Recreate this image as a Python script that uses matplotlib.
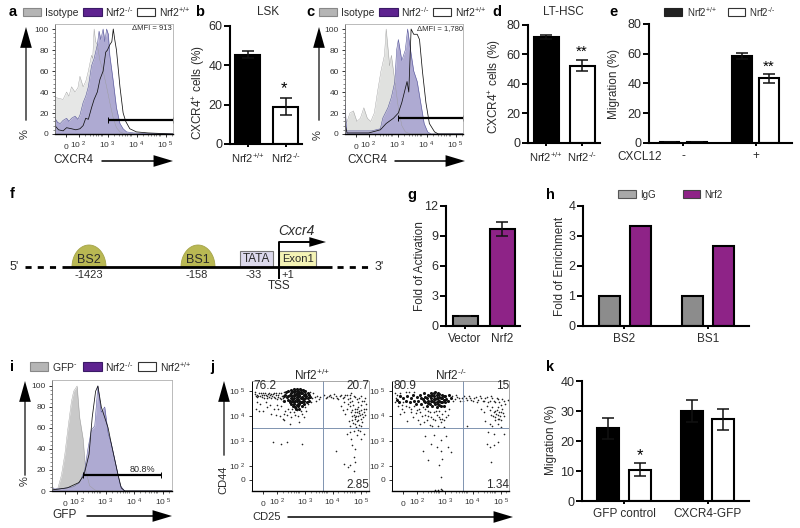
import numpy as np
import matplotlib
matplotlib.use("Agg")
import matplotlib.pyplot as plt
from matplotlib.patches import Rectangle, Polygon

plt.rcParams['font.family'] = ['Liberation Sans', 'DejaVu Sans']
plt.rcParams['mathtext.fontset'] = 'custom'
plt.rcParams['mathtext.rm'] = 'Liberation Sans'
plt.rcParams['mathtext.it'] = 'Liberation Sans:italic'
plt.rcParams['mathtext.default'] = 'regular'

WT = 'Nrf2$^{{+}/{+}}$'
KO = 'Nrf2$^{\u2010/\u2010}$'
TXT = '#2b2b2b'
GRAY = '#8c8c8c'
PURPLE = '#8e2387'

# histogram values: (log10 intensity, % of max)
a_iso = [(1.28,35),(1.40,34),(1.56,33),(1.68,40),(1.76,36),(1.85,45),(1.97,40),(2.07,44),(2.14,55),(2.25,45),(2.34,50),(2.43,60),(2.54,75),(2.58,72),(2.63,100),(2.68,88),(2.74,85),(2.83,70),(2.94,60),(3.06,45),(3.17,30),(3.29,15),(3.40,6),(3.52,2),(3.70,0),(5.35,0)]
a_ko = [(1.28,15),(1.37,11),(1.46,10),(1.56,13),(1.68,15),(1.76,12),(1.85,15),(1.97,17),(2.07,14),(2.14,18),(2.25,30),(2.34,36),(2.43,45),(2.54,65),(2.63,72),(2.74,85),(2.80,98),(2.86,90),(2.94,100),(3.0,88),(3.06,100),(3.12,95),(3.17,75),(3.29,50),(3.40,25),(3.52,10),(3.63,5),(3.75,2),(4.0,1),(4.5,0.5),(5.35,0)]
a_wt = [(1.28,8),(1.40,4),(1.56,3),(1.68,6),(1.85,5),(2.0,4),(2.14,5),(2.25,8),(2.34,15),(2.43,14),(2.54,25),(2.63,33),(2.74,40),(2.83,52),(2.94,60),(3.03,78),(3.09,80),(3.17,85),(3.24,88),(3.29,100),(3.34,90),(3.40,80),(3.52,45),(3.63,20),(3.72,12),(3.86,5),(4.09,2),(4.5,1),(5.35,0)]

c_iso = [(1.28,20),(1.33,10),(1.45,20),(1.57,22),(1.69,12),(1.81,15),(1.93,25),(2.05,15),(2.17,12),(2.29,20),(2.40,40),(2.52,60),(2.64,75),(2.70,100),(2.82,65),(2.88,75),(3.0,50),(3.12,25),(3.24,8),(3.36,2),(3.54,0),(5.35,0)]
c_ko = [(1.28,30),(1.33,3),(1.6,3),(2.2,3),(2.5,5),(2.58,15),(2.76,25),(2.88,35),(3.0,50),(3.06,80),(3.12,90),(3.24,70),(3.36,80),(3.44,100),(3.54,80),(3.65,60),(3.77,50),(3.89,30),(4.01,10),(4.13,2),(4.25,0),(5.35,0)]
c_wt = [(1.28,10),(1.35,1),(2.1,1),(2.5,4),(2.7,10),(2.95,15),(3.12,20),(3.24,30),(3.42,50),(3.48,40),(3.56,100),(3.65,95),(3.77,95),(3.85,90),(3.95,60),(4.07,30),(4.19,10),(4.37,2),(4.5,0),(5.35,0)]

i_gfp = [(1.21,5),(1.30,1),(1.42,3),(1.54,15),(1.66,35),(1.77,60),(1.89,85),(1.97,95),(2.09,100),(2.18,70),(2.30,50),(2.39,20),(2.53,5),(2.71,1),(2.88,0),(5.42,0)]
i_ko = [(1.21,2),(1.5,2),(1.96,4),(2.18,8),(2.36,20),(2.47,40),(2.59,58),(2.71,62),(2.82,100),(2.94,75),(3.06,80),(3.18,55),(3.29,45),(3.41,30),(3.53,15),(3.61,5),(3.76,0),(5.42,0)]
i_wt = [(1.21,1),(1.75,3),(2.15,8),(2.33,15),(2.51,35),(2.62,70),(2.74,95),(2.82,100),(2.94,80),(3.06,70),(3.18,60),(3.29,45),(3.41,30),(3.53,15),(3.64,3),(3.76,0),(5.42,0)]

# bar values
b_vals = [45.5, 19]
b_errs = [2, 4.5]
d_vals = [72, 52.5]
d_errs = [1.5, 4]
e_vals = [1, 1, 58.5, 43.5]
e_errs = [0, 0, 2, 3]
g_vals = [1, 9.7]
g_errs = [0, 0.7]
h_vals = [1, 3.33, 1, 2.67]
k_vals = [24.2, 10.5, 30, 27.2]
k_errs = [3.5, 2.3, 3.8, 3.4]

# dot plot j, read by eye: (log10 CD25, log10 CD44)
j_wt_dense = [(2.45,4.75),(2.5,4.65),(2.55,4.85),(2.6,4.7),(2.6,4.9),(2.65,4.6),(2.65,4.8),(2.7,4.5),(2.7,4.72),(2.7,4.95),(2.75,4.62),(2.75,4.82),(2.75,5.0),(2.8,4.45),(2.8,4.6),(2.8,4.76),(2.8,4.92),(2.85,4.5),(2.85,4.68),(2.85,4.84),(2.85,5.02),(2.9,4.48),(2.9,4.62),(2.9,4.78),(2.9,4.95),(2.95,4.55),(2.95,4.72),(2.95,4.9),(3.0,4.58),(3.0,4.75),(3.0,4.92),(3.05,4.62),(3.05,4.82),(3.1,4.7),(3.1,4.88),(3.15,4.78),(3.2,4.72),(2.55,4.55),(2.65,4.98),(2.75,4.38),(2.85,4.4),(2.95,5.05),(3.05,5.0),(2.7,4.55),(2.9,4.85),(2.4,4.85),(2.35,4.78),(3.25,4.85),(3.25,4.62),
 (2.35,4.62),(2.42,4.95),(2.5,4.78),(2.5,5.0),(2.58,4.62),(2.62,5.05),(2.68,4.42),(2.72,5.08),(2.78,4.3),(2.82,5.1),(2.88,4.3),(2.92,5.08),(2.98,4.42),(3.02,5.05),(3.08,4.5),(3.12,4.98),(3.18,4.55),(3.2,4.92),(3.28,4.75),(2.62,4.5),(2.72,4.84),(2.82,4.68),(2.92,4.55),(3.02,4.66),(2.78,4.88),(2.68,4.68)]
j_wt_sparse = [(1.3,4.95),(1.35,4.8),(1.4,4.85),(1.45,4.92),(1.5,4.78),(1.55,4.85),(1.6,4.9),(1.65,4.72),(1.7,4.84),(1.75,4.78),(1.8,4.9),(1.85,4.82),(1.9,4.7),(1.95,4.86),(2.0,4.76),(2.05,4.9),(2.1,4.66),(2.15,4.82),(2.2,4.72),(2.25,4.9),(2.3,4.6),(2.35,4.95),(1.35,4.3),(1.5,4.5),(1.6,4.2),(1.75,4.35),(1.9,4.1),(2.0,4.3),(2.1,4.45),(2.2,4.0),(2.3,3.9),(2.4,4.2),(2.5,4.3),(2.6,3.95),(2.7,4.15),(2.8,4.25),(2.9,3.75),(3.0,4.1),(3.1,4.35),(2.35,3.85),(2.55,3.7),(3.2,4.5),(3.35,4.7),(3.4,4.9),(3.5,4.6),(3.55,4.8),(3.65,4.75),
 (3.8,4.82),(3.9,4.75),(4.0,4.85),(4.1,4.72),(4.2,4.8),(4.3,4.68),(4.4,4.82),(4.5,4.76),(4.6,4.85),(4.7,4.72),(4.75,4.9),(4.8,4.6),(4.9,4.75),(5.0,4.55),(5.1,4.8),(5.2,4.6),(4.4,4.4),(4.5,4.55),(4.6,4.3),(4.7,4.4),(4.75,4.15),(4.8,4.25),(4.85,4.05),(4.9,4.3),(4.9,3.95),(4.95,4.15),(5.0,4.35),(5.0,4.0),(5.05,4.2),(5.1,4.45),(5.1,3.9),(5.15,4.1),(5.2,4.3),(5.25,4.05),(5.3,4.5),(4.8,3.85),(4.9,3.7),(4.95,3.8),(5.05,3.65),(5.15,3.75),(4.7,3.6),(4.6,3.3),(4.75,3.1),(4.85,3.4),(4.95,3.25),(5.0,3.45),(5.1,3.1),(5.2,3.3),(4.8,2.85),(4.9,2.7),(4.85,2.35),(4.5,2.1),(4.65,1.95),(4.7,2.05),(4.9,2.15),(4.85,1.8),(4.2,2.6),(2.25,2.9),(2.45,2.95),(3.0,2.9),(1.95,2.95),
 (1.33,4.88),(1.38,4.74),(1.44,4.8),(1.52,4.9),(1.58,4.76),(1.63,4.82),(1.68,4.92),(1.73,4.7),(1.78,4.86),(1.83,4.76),(1.88,4.88),(1.93,4.78),(1.98,4.92),(2.03,4.7),(2.08,4.82),(2.13,4.74),(2.18,4.9),(2.23,4.66),(2.28,4.8),(2.33,4.7),(1.4,4.55),(1.45,4.2),(1.7,4.55),(1.85,4.45),(2.05,4.05),(2.15,4.3),(2.25,4.4),(2.35,4.1),(2.45,4.05),(2.55,4.18),(2.65,4.28),(2.75,4.05),(2.85,4.0),(2.95,4.22),(3.05,3.95),(3.15,4.2),(3.28,4.95),(3.32,4.55),(3.45,4.75),(3.6,4.66),
 (3.85,4.7),(3.95,4.8),(4.05,4.76),(4.15,4.86),(4.25,4.72),(4.35,4.78),(4.45,4.7),(4.55,4.82),(4.65,4.66),(4.7,4.82),(4.85,4.8),(4.95,4.68),(5.05,4.7),(5.15,4.62),(5.25,4.72),(4.45,4.25),(4.55,4.1),(4.65,4.5),(4.72,4.58),(4.78,4.02),(4.82,4.45),(4.88,4.18),(4.92,4.02),(4.97,4.28),(5.02,4.12),(5.08,4.05),(5.12,4.25),(5.18,3.95),(5.22,4.18),(5.28,4.3),(4.82,3.72),(4.88,3.9),(5.0,3.85),(5.12,3.6),(4.72,3.35),(4.92,3.55),(5.08,3.4),(4.68,3.8)]
j_ko_dense = [(1.6,4.7),(1.7,4.6),(1.75,4.8),(1.85,4.55),(1.9,4.72),(1.95,4.85),(2.0,4.62),(2.05,4.5),(2.1,4.75),(2.15,4.6),(2.2,4.82),(2.25,4.5),(2.3,4.68),(2.35,4.9),(2.4,4.55),(2.4,4.75),(2.45,4.42),(2.5,4.62),(2.5,4.85),(2.55,4.5),(2.6,4.72),(2.6,4.92),(2.65,4.4),(2.65,4.6),(2.7,4.78),(2.75,4.5),(2.75,4.68),(2.75,4.95),(2.8,4.38),(2.8,4.58),(2.8,4.82),(2.85,4.7),(2.85,4.48),(2.9,4.6),(2.9,4.88),(2.95,4.42),(2.95,4.72),(3.0,4.55),(3.0,4.85),(3.05,4.65),(3.05,4.4),(3.1,4.78),(3.1,4.55),(3.15,4.68),(3.2,4.6),(3.25,4.82),(3.3,4.7),(1.4,4.65),(1.5,4.78),(1.45,4.55),
 (2.45,4.7),(2.55,4.78),(2.65,4.84),(2.7,4.55),(2.85,4.6),(2.95,4.58),(3.0,4.7),(2.6,4.6),(2.7,4.68),(2.8,4.7),(2.9,4.75),(2.5,4.52),(2.35,4.6),(2.25,4.7),(2.9,4.45),(3.05,4.8),(2.7,4.92),(2.85,4.92)]
j_ko_sparse = [(1.3,4.9),(1.32,4.55),(1.4,4.85),(1.55,4.45),(1.7,4.95),(1.8,4.35),(1.9,4.3),(2.0,4.95),(2.1,4.25),(2.2,4.15),(2.3,4.35),(2.4,4.05),(2.5,4.2),(2.6,3.95),(2.7,4.15),(2.8,4.05),(2.9,4.2),(3.0,3.9),(3.1,4.2),(1.5,4.1),(1.65,4.15),(1.75,3.8),(1.95,3.95),(2.15,3.85),(2.35,3.75),(2.55,3.65),(2.75,3.85),(2.85,3.6),(2.95,3.75),(3.05,3.55),(3.15,3.95),(3.25,4.3),(2.4,3.2),(2.7,3.25),(2.95,3.05),(3.15,3.2),(2.3,2.6),(2.6,2.9),(2.8,2.75),(2.95,2.6),(3.0,2.3),(3.2,2.75),(3.3,2.55),(2.5,2.25),(2.9,2.05),(2.95,1.55),(2.75,1.05),(2.85,1.05),(2.95,1.08),(3.0,1.03),
 (3.35,4.8),(3.45,4.68),(3.55,4.75),(3.65,4.6),(3.7,4.72),(3.8,4.78),(3.9,4.65),(4.0,4.72),(4.1,4.6),(4.2,4.75),(4.3,4.65),(4.4,4.72),(4.5,4.6),(4.6,4.75),(4.7,4.62),(4.8,4.72),(4.9,4.55),(5.0,4.68),(5.1,4.45),(5.2,4.6),(5.35,4.65),(4.4,4.3),(4.5,4.15),(4.6,4.4),(4.7,4.25),(4.75,4.05),(4.8,4.35),(4.85,4.15),(4.9,3.95),(4.95,4.25),(5.0,4.05),(5.0,4.35),(5.05,3.9),(5.1,4.15),(5.15,4.3),(5.2,4.0),(4.55,3.8),(4.7,3.7),(4.8,3.6),(4.9,3.85),(5.0,3.7),(5.1,3.55),(5.2,3.3),(4.65,3.35),(4.85,3.3),(4.6,2.9),(4.7,2.75),(4.85,2.85),(5.0,2.95),(4.75,2.15),(3.9,3.6),
 (1.35,4.72),(1.42,4.42),(1.48,4.9),(1.56,4.3),(1.62,4.55),(1.72,4.42),(1.82,4.95),(1.88,4.18),(1.98,4.4),(2.08,4.12),(2.18,4.3),(2.28,4.0),(2.38,4.28),(2.48,4.02),(2.58,4.15),(2.68,3.9),(2.78,4.22),(2.88,3.95),(2.98,4.1),(3.08,3.85),(3.2,4.05),(2.2,3.7),(2.45,3.85),(2.65,3.6),(2.92,3.9),
 (3.4,4.62),(3.5,4.85),(3.6,4.7),(3.75,4.62),(3.85,4.7),(3.95,4.78),(4.05,4.65),(4.15,4.72),(4.25,4.58),(4.35,4.8),(4.45,4.62),(4.55,4.7),(4.65,4.58),(4.75,4.78),(4.85,4.62),(4.95,4.72),(5.05,4.58),(5.15,4.68),(5.25,4.5),(4.82,4.0),(4.88,4.22),(4.92,4.08),(4.98,3.9),(5.02,4.18),(5.08,4.02),(5.12,3.85),(5.18,4.12)]


def add_ax(left, top, right, bottom):
    return fig.add_axes([left / 800, 1 - bottom / 528, (right - left) / 800, (bottom - top) / 528])


def flow_xticks(ax, zero_at):
    ax.set_xticks([zero_at, 2.1, 3.1, 4.1, 5.1])
    ax.set_xticklabels(['0', '10 $^{2}$', '10 $^{3}$', '10 $^{4}$', '10 $^{5}$'], va='baseline')
    ax.set_xticks([2.3, 2.48, 2.6, 2.7, 2.78, 2.85, 2.9, 3.3, 3.48, 3.6, 3.7, 3.78, 3.85, 3.9, 4.3, 4.48, 4.6, 4.7, 4.78, 4.85, 4.9, 5.3], minor=True)
    ax.tick_params(axis='both', which='major', labelsize=6, length=2.5, width=0.7, colors='#333333', pad=2)
    ax.tick_params(axis='x', which='major', pad=8)
    ax.tick_params(axis='both', which='minor', length=1.2, width=0.4, color='#333333')


def hist_panel(box, xlim, ymax, first, ko, wt, gate, gate_y, first_color):
    ax = add_ax(*box)
    ax.fill_between(*zip(*first), color=first_color, lw=0)
    ax.plot(*zip(*first), color='#9a9a9a', lw=0.3)
    ax.fill_between(*zip(*ko), color='#aeaad2', lw=0)
    ax.plot(*zip(*ko), color='#55559a', lw=0.4)
    ax.plot(*zip(*wt), color='#111111', lw=0.55)
    ax.plot(gate, [gate_y, gate_y], color='black', lw=1.6, marker='|', ms=4, mew=0.7, solid_capstyle='butt', clip_on=False)
    ax.set_xlim(*xlim)
    ax.set_ylim(0, ymax)
    ax.set_yticks([0, 20, 40, 60, 80, 100])
    ax.set_yticks(np.arange(0, 101, 4), minor=True)
    flow_xticks(ax, 1.65)
    ax.spines['top'].set_color('#b0b0b0')
    ax.spines['right'].set_color('#b0b0b0')
    ax.spines['left'].set_color('#666666')
    ax.spines['bottom'].set_linewidth(1.0)
    for s in ['top', 'right', 'left']:
        ax.spines[s].set_linewidth(0.6)
    return ax


def bar_panel(box, ymax, yticks, centres, width, vals, colors, errs=None, xticks=None, xlabels=None, lab_size=8.5):
    ax = add_ax(*box)
    # x axis runs in pixels from the spine so bars sit where they do in the figure
    ax.set_xlim(0, box[2] - box[0])
    ax.set_ylim(0, ymax)
    ax.bar(centres, vals, width=width, color=colors, edgecolor='black', linewidth=1.5)
    if errs is not None:
        ax.errorbar(centres, vals, yerr=errs, fmt='none', ecolor='#111111', elinewidth=1.1, capsize=4.5, capthick=1.1, clip_on=False)
    ax.set_yticks(yticks)
    ax.set_xticks(xticks if xticks is not None else centres)
    ax.set_xticklabels(xlabels)
    ax.tick_params(axis='y', labelsize=9, length=4, width=1.4, colors=TXT, pad=1.5)
    ax.tick_params(axis='x', labelsize=lab_size, length=2.5, width=1.4, colors=TXT, pad=2.5)
    ax.tick_params(axis='both', color='black')
    for s in ['top', 'right']:
        ax.spines[s].set_visible(False)
    for s in ['left', 'bottom']:
        ax.spines[s].set_linewidth(1.5)
    ax.patch.set_alpha(0)
    return ax


def dot_panel(box, xgate, dense, sparse):
    ax = add_ax(*box)
    ax.scatter(*zip(*sparse), s=1.4, color='#222222', lw=0)
    ax.scatter(*zip(*dense), s=5, color='#111111', lw=0)
    ax.axvline(xgate, color='#7f93b0', lw=0.7)
    ax.axhline(3.52, color='#7f93b0', lw=0.7)
    ax.set_xlim(1.21, 5.39)
    ax.set_ylim(1.0, 5.4)
    ax.set_yticks([1.44, 2, 3, 4, 5])
    ax.set_yticklabels(['0', '10 $^{2}$', '10 $^{3}$', '10 $^{4}$', '10 $^{5}$'])
    flow_xticks(ax, 1.6)
    for s in ['top', 'right']:
        ax.spines[s].set_color('#9a9a9a')
        ax.spines[s].set_linewidth(0.6)
    ax.spines['left'].set_linewidth(0.7)
    ax.spines['bottom'].set_linewidth(1.0)
    return ax


fig = plt.figure(figsize=(8, 5.28), dpi=100)

# overlay in pixel coordinates for labels, legends, arrows and the gene diagram
ov = fig.add_axes([0, 0, 1, 1], zorder=10)
ov.set_xlim(0, 800)
ov.set_ylim(528, 0)
ov.axis('off')


def label(x, y, s, size=8, ha='left', color=TXT, **kw):
    ov.text(x, y, s, fontsize=size, ha=ha, va='center', color=color, **kw)


def arrow(x0, y0, x1, y1, color='black', lw=1.3, hw=0.42, hl=1.5):
    ov.annotate('', xy=(x1, y1), xytext=(x0, y0),
                arrowprops=dict(arrowstyle='-', color=color, lw=lw, shrinkA=0, shrinkB=6))
    ov.annotate('', xy=(x1, y1), xytext=(x0, y0),
                arrowprops=dict(arrowstyle='-|>,head_width=%s,head_length=%s' % (hw, hl), color='black', lw=0, shrinkA=0, shrinkB=0, mutation_scale=10, fc='black'))


def swatch(x0, x1, y0, y1, color, edge='#555555'):
    ov.add_patch(Rectangle((x0, y0), x1 - x0, y1 - y0, fc=color, ec=edge, lw=0.8))


# a
hist_panel((55, 24, 173, 134), (1.28, 5.35), 104.8, a_iso, a_ko, a_wt, [3.12, 5.35], 13.3, '#e6e7e6')
# c
hist_panel((345, 24, 463, 134), (1.28, 5.35), 104.8, c_iso, c_ko, c_wt, [3.1, 5.35], 15, '#e0e1df')
# i
hist_panel((52, 380, 172, 491), (1.21, 5.42), 105.7, i_gfp, i_ko, i_wt, [2.3, 5.05], 15, '#c9c9c9')

for ltr, lx, ly in [('a', 9, 12), ('b', 195, 12), ('c', 306, 12), ('d', 492, 12), ('e', 609, 12),
                    ('f', 10, 194), ('g', 407, 195), ('h', 546, 195),
                    ('i', 10, 367), ('j', 210, 367), ('k', 546, 367)]:
    label(lx, ly, ltr, size=10.5, color='black', fontweight='bold')

for off, first_name in [(0, 'Isotype'), (296, 'Isotype')]:
    swatch(23 + off, 41 + off, 8, 16, '#b5b5b5', '#888888')
    label(45 + off, 12.5, first_name, size=7.5)
    swatch(83 + off, 102 + off, 8, 16, '#5e2390', '#3a1a66')
    label(105 + off, 12.5, KO, size=7.5)
    swatch(137 + off, 155 + off, 8, 16, 'white', '#333333')
    label(159 + off, 12.5, WT, size=7.5)

swatch(30, 48, 362, 371, '#b5b5b5', '#888888')
label(52, 367, 'GFP$^{\u2010}$', size=7.5)
swatch(83, 102, 362, 371, '#5e2390', '#3a1a66')
label(105, 367, KO, size=7.5)
swatch(138, 156, 362, 371, 'white', '#333333')
label(160, 367, WT, size=7.5)

label(172, 29, '\u0394MFI = 913', size=5.5, ha='right')
label(463, 29, '\u0394MFI = 1,780', size=5.5, ha='right')
label(142, 469, '80.8%', size=6.5, ha='center')

# axis arrows of the flow panels
arrow(26, 120, 26, 27, color='#555555')
label(25, 134, '%', size=8, ha='center', rotation=90)
label(53, 160, 'CXCR4', size=8.5)
arrow(102, 161, 173, 161, lw=1.1, hw=0.42, hl=1.4)
arrow(319, 120, 319, 27, color='#555555')
label(318, 135, '%', size=8, ha='center', rotation=90)
label(347, 160, 'CXCR4', size=8.5)
arrow(395, 161, 465, 161, lw=1.1, hw=0.42, hl=1.4)
arrow(25, 475, 25, 381, color='#555555')
label(25, 481, '%', size=8, ha='center', rotation=90)
label(52, 515, 'GFP', size=8.5)
arrow(87, 516, 172, 516, lw=1.1, hw=0.42, hl=1.4)
arrow(224, 455, 224, 381, color='#555555')
label(223, 480, 'CD44', size=8, ha='center', rotation=90)
label(252, 517, 'CD25', size=8)
arrow(288, 517, 513, 517, lw=1.1, hw=0.42, hl=1.4)

# b, d, e
bar_panel((230, 26, 302, 144), 60, [0, 20, 40, 60], [18, 56], 25, b_vals, ['black', 'white'], b_errs, xlabels=[WT, KO], lab_size=8)
label(199, 93, 'CXCR4$^{+}$ cells (%)', size=8.5, ha='center', rotation=90)
label(268, 12, 'LSK', size=8.5, ha='center')
label(284, 89, '*', size=12, ha='center', color='black')
bar_panel((528, 25, 600, 143), 80, [0, 20, 40, 60, 80], [18, 54], 25, d_vals, ['black', 'white'], d_errs, xlabels=[WT, KO], lab_size=8)
label(495, 87, 'CXCR4$^{+}$ cells (%)', size=8.5, ha='center', rotation=90)
label(563, 12, 'LT-HSC', size=8.5, ha='center')
label(582, 52, '**', size=11, ha='center', color='black')
bar_panel((649, 24, 792, 143), 80, [0, 20, 40, 60, 80], [20.5, 48, 93, 120], 19.5, e_vals, ['black', 'black', 'black', 'white'], e_errs,
          xticks=[34, 107], xlabels=['-', '+'])
label(614, 84, 'Migration (%)', size=8.5, ha='center', rotation=90)
label(617, 157, 'CXCL12', size=8.5)
label(769, 67, '**', size=11, ha='center', color='black')
swatch(664, 682, 8, 16, '#222222', '#222222')
label(687, 12.5, WT, size=7)
swatch(728, 745, 8, 16, 'white', '#333333')
label(749, 12.5, KO, size=7)

# g, h
bar_panel((446, 206, 520, 326), 12, [0, 3, 6, 9, 12], [19, 56], 25, g_vals, [GRAY, PURPLE], g_errs, xlabels=['Vector', 'Nrf2'], lab_size=8.5)
label(420, 266, 'Fold of Activation', size=8.5, ha='center', rotation=90)
bar_panel((583, 206, 749, 326), 4, [0, 1, 2, 3, 4], [26, 57, 109, 140.5], 21, h_vals, [GRAY, PURPLE, GRAY, PURPLE],
          xticks=[41, 125], xlabels=['BS2', 'BS1'], lab_size=8.5)
label(560, 266, 'Fold of Enrichment', size=8.5, ha='center', rotation=90)
swatch(618, 636, 190, 198, '#a8a8a8', '#555555')
label(640, 195, 'IgG', size=7)
swatch(683, 700, 190, 198, PURPLE, '#444444')
label(704, 195, 'Nrf2', size=7)

# k
bar_panel((582, 381, 749, 501), 40, [0, 10, 20, 30, 40], [26, 58, 110, 141], 21.5, k_vals, ['black', 'white', 'black', 'white'], k_errs,
          xticks=[42, 126], xlabels=['GFP control', 'CXCR4-GFP'], lab_size=8.5)
label(551, 440, 'Migration (%)', size=8.5, ha='center', rotation=90)
label(640, 456, '*', size=12, ha='center', color='black')

# j
dot_panel((252, 381, 369, 491), 3.75, j_wt_dense, j_wt_sparse)
dot_panel((392, 381, 509, 491), 3.75, j_ko_dense, j_ko_sparse)
label(312, 375, WT, size=8.5, ha='center')
label(451, 375, KO, size=8.5, ha='center')
for x0, x1, tl, tr, br in [(253, 369, '76.2', '20.7', '2.85'), (393, 509, '80.9', '15', '1.34')]:
    label(x0, 386, tl, size=8.5)
    label(x1, 386, tr, size=8.5, ha='right')
    label(x1, 485, br, size=8.5, ha='right')

# f: gene diagram
LINE_Y = 267
for cx, name in [(89, 'BS2'), (198, 'BS1')]:
    t = np.linspace(np.pi, 2 * np.pi, 40)
    ov.add_patch(Polygon(np.c_[cx + 17 * np.cos(t), LINE_Y + 22 * np.sin(t)], fc='#b9b853', ec='#a5a44a', lw=0.6))
    label(cx, 260, name, size=9, ha='center')
ov.add_patch(Rectangle((240, 251), 33, 16, fc='#dcd9ec', ec='#777777', lw=0.8))
label(256.5, 259, 'TATA', size=8.5, ha='center')
ov.add_patch(Rectangle((279, 251), 37, 16, fc='#f4f3b5', ec='#777777', lw=0.8))
label(298, 259, 'Exon1', size=8, ha='center')
ov.plot([62, 332], [LINE_Y, LINE_Y], color='black', lw=2, solid_capstyle='butt')
ov.plot([25, 57], [LINE_Y, LINE_Y], color='black', lw=2, dashes=(2.2, 2.2))
ov.plot([337, 368], [LINE_Y, LINE_Y], color='black', lw=2, dashes=(2.2, 2.2))
ov.plot([279, 279], [242, 279], color='black', lw=1.4, solid_capstyle='butt')
arrow(279, 242, 326, 242, lw=1.4, hw=0.35, hl=1.2)
label(10, 267, "5'", size=9)
label(375, 267, "3'", size=9)
label(278, 231, 'Cxcr4', size=10, fontstyle='italic')
label(89, 275, '-1423', size=8, ha='center')
label(197, 275, '-158', size=8, ha='center')
label(254, 275, '-33', size=8, ha='center')
label(281, 275, '+1', size=8)
label(279, 286, 'TSS', size=8.5, ha='center')

plt.savefig('out.png', dpi=100)
